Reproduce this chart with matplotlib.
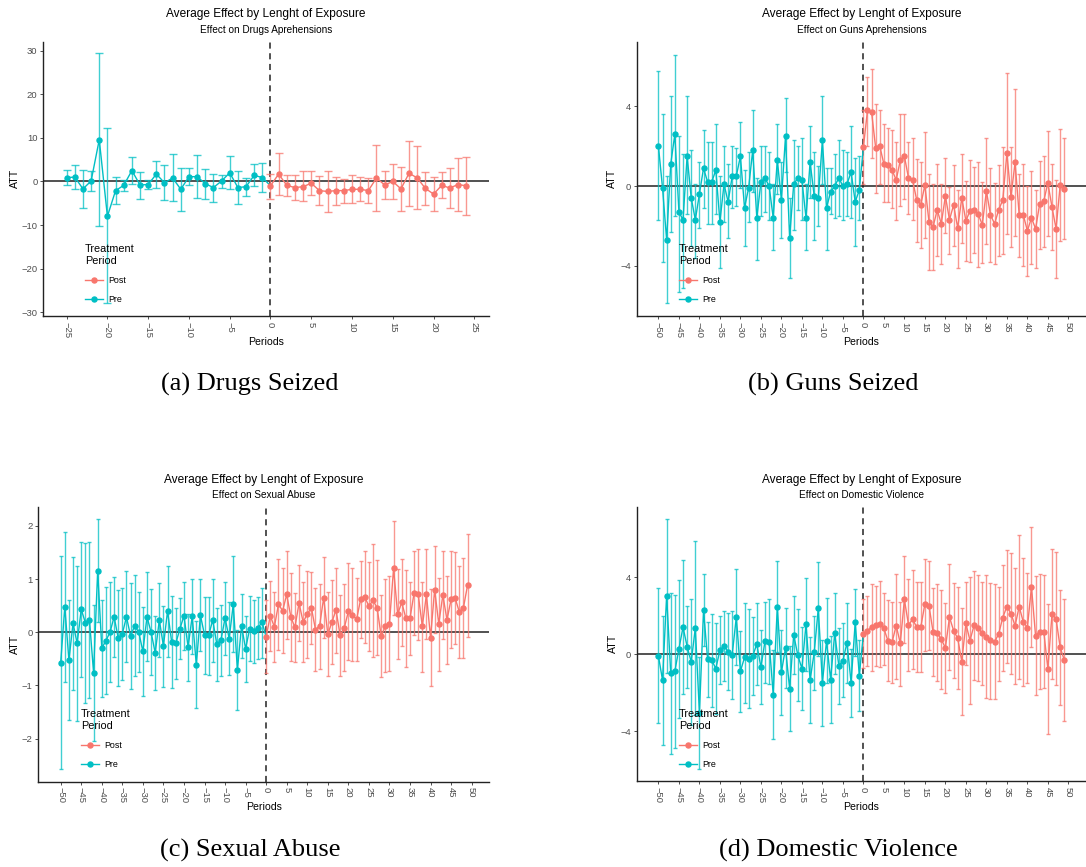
import numpy as np
import matplotlib
matplotlib.use("Agg")
import matplotlib.pyplot as plt
from matplotlib.lines import Line2D

plt.rcParams['font.family'] = ['Liberation Sans', 'DejaVu Sans']

POST_COLOR = "#F8766D"
PRE_COLOR = "#00BFC4"

# ---------------- data ----------------
drugs_periods = list(range(-25, 25))
drugs_att = [0.9, 1.0, -1.7, 0.1, 9.6, -8.0, -2.1, -0.9, 2.5, -0.8, -0.7, 1.7, -0.3, 0.8, -1.8,
             1.1, 1.1, -0.5, -1.4, 0.1, 2.0, -1.4, -1.2, 1.4, 0.9,
             -1.0, 1.7, -0.9, -1.4, -1.2, -0.4, -2.1, -2.3, -2.1, -2.1, -1.8, -1.8, -2.1, 0.8, -0.8,
             0.0, -1.7, 1.9, 0.8, -1.6, -2.9, -0.9, -1.5, -0.7, -1.0]
drugs_hi = [2.7, 3.8, 2.7, 2.4, 29.4, 12.2, 1.1, 0.3, 5.7, 2.1, 0.4, 4.8, 3.8, 6.4, 3.0,
            3.0, 6.0, 2.8, 1.8, 1.5, 5.8, 2.5, 0.7, 3.9, 4.3,
            1.8, 6.5, 1.5, 1.5, 2.3, 2.5, 1.2, 2.4, 1.1, 0.5, 1.4, 1.1, 0.9, 8.3, 2.5,
            4.1, 3.4, 9.4, 8.1, 2.1, 1.0, 2.1, 3.0, 5.4, 5.6]
drugs_lo = [-0.9, -1.8, -6.2, -2.1, -10.3, -28.0, -5.2, -2.2, -0.5, -4.0, -1.7, -1.4, -4.3, -4.6, -6.7,
            -0.9, -3.8, -4.1, -4.7, -1.4, -1.8, -5.2, -3.3, -1.1, -2.4,
            -4.0, -3.1, -3.4, -4.3, -4.6, -3.2, -5.4, -7.0, -5.4, -4.9, -4.9, -4.6, -5.0, -6.7, -4.1,
            -4.1, -6.8, -5.7, -6.4, -5.3, -6.8, -3.8, -6.1, -6.8, -7.7]

long_periods = list(range(-50, 50))

guns_att = [2.0, -0.1, -2.7, 1.1, 2.6, -1.3, -1.7, 1.5, -0.6, -1.7,
            -0.4, 0.9, 0.2, 0.2, 0.8, -1.8, 0.1, -0.8, 0.5, 0.5,
            1.5, -1.1, -0.1, 1.8, -1.6, 0.2, 0.4, 0.0, -1.6, 1.3,
            -0.7, 2.5, -2.6, 0.1, 0.4, 0.3, -1.6, 1.2, -0.5, -0.6,
            2.3, -1.1, -0.3, 0.0, 0.4, 0.0, 0.1, 0.7, -0.8, -0.2,
            1.95, 3.8, 3.7, 1.9, 2.0, 1.1, 1.05, 0.8, 0.3, 1.3,
            1.5, 0.4, 0.3, -0.7, -0.95, 0.05, -1.8, -2.05, -1.2, -1.9,
            -0.5, -1.7, -0.95, -2.1, -0.6, -1.75, -1.25, -1.2, -1.4, -1.95,
            -0.25, -1.45, -1.9, -1.2, -0.7, 1.65, -0.55, 1.2, -1.45, -1.45,
            -2.25, -1.6, -2.15, -0.9, -0.75, 0.15, -1.05, -2.15, 0.05, -0.15]
guns_hi = [5.8, 3.6, 0.5, 4.5, 6.6, 2.5, 1.6, 4.5, 1.8, 0.1,
           1.2, 2.8, 2.2, 2.2, 3.1, 0.5, 2.0, 1.1, 2.0, 1.9,
           3.2, 0.8, 1.7, 3.8, 0.4, 2.0, 2.0, 1.7, 0.1, 3.1,
           1.2, 4.4, -0.6, 2.3, 2.0, 2.4, 0.1, 3.0, 1.7, 1.0,
           4.5, 0.9, 0.9, 1.6, 2.3, 1.8, 1.7, 3.0, 1.4, 1.5,
           3.8, 5.5, 5.9, 4.1, 3.8, 3.1, 2.9, 2.8, 2.2, 3.6,
           3.6, 2.2, 2.4, 1.35, 1.2, 2.7, 0.6, 0.1, 1.1, 0.1,
           1.4, -0.05, 1.05, -0.2, 1.6, 0.25, 1.3, 0.95, 1.2, 0.2,
           2.4, 0.9, 0.15, 1.05, 1.95, 5.7, 1.95, 4.85, 0.6, 1.1,
           0.0, 0.75, -0.2, 1.25, 1.5, 2.75, 1.1, 0.3, 2.85, 2.4]
guns_lo = [-1.7, -3.8, -5.9, -2.3, -1.5, -5.3, -5.1, -1.4, -3.0, -3.6,
           -2.1, -1.1, -1.9, -1.9, -1.4, -4.1, -1.8, -2.6, -1.1, -1.0,
           -0.1, -3.0, -1.8, -0.3, -3.7, -1.5, -1.3, -1.7, -3.2, -0.4,
           -2.6, 0.7, -4.6, -2.2, -1.2, -1.7, -3.2, -0.6, -2.7, -2.0,
           0.1, -3.2, -1.4, -1.6, -1.5, -1.7, -1.5, -1.6, -3.0, -1.7,
           0.1, 2.0, 1.4, -0.35, 0.1, -0.8, -0.8, -1.1, -1.7, -1.0,
           -0.65, -1.4, -1.7, -2.8, -3.1, -2.6, -4.2, -4.2, -3.5, -3.9,
           -2.35, -3.4, -3.0, -4.1, -2.85, -3.75, -3.8, -3.35, -4.05, -3.85,
           -2.9, -3.8, -3.9, -3.5, -3.4, -2.4, -3.05, -2.5, -3.55, -4.0,
           -4.5, -3.9, -4.1, -3.15, -3.05, -2.5, -3.2, -4.6, -2.75, -2.65]

abuse_att = [-0.57, 0.48, -0.53, 0.17, -0.21, 0.43, 0.18, 0.23, -0.76, 1.16,
             -0.30, -0.16, 0.00, 0.29, -0.11, -0.03, 0.29, -0.07, 0.12, 0.00,
             -0.36, 0.29, 0.00, -0.39, 0.23, -0.26, 0.40, -0.18, -0.21, 0.06,
             0.31, -0.28, 0.30, -0.61, 0.32, -0.05, -0.06, 0.23, -0.23, -0.15,
             0.27, -0.12, 0.53, -0.71, 0.12, -0.31, 0.07, 0.02, 0.08, 0.19,
             -0.09, 0.31, 0.10, 0.53, 0.40, 0.71, 0.29, 0.09, 0.55, 0.19,
             0.34, 0.46, 0.05, 0.12, 0.65, -0.04, 0.19, 0.42, -0.06, 0.08,
             0.39, 0.33, 0.24, 0.62, 0.66, 0.49, 0.60, 0.46, -0.08, 0.12,
             0.16, 1.20, 0.34, 0.56, 0.26, 0.26, 0.74, 0.71, 0.11, 0.71,
             -0.10, 0.80, 0.16, 0.70, 0.23, 0.62, 0.64, 0.38, 0.46, 0.88]
abuse_hi = [1.43, 1.89, 0.60, 1.42, 1.24, 1.69, 1.68, 1.70, 0.52, 2.12,
            0.60, 0.85, 0.95, 1.04, 0.79, 0.84, 1.15, 0.92, 1.08, 0.76,
            0.47, 1.13, 0.81, 0.31, 0.92, 0.50, 1.25, 0.68, 0.46, 0.64,
            0.94, 0.34, 1.01, 0.22, 1.01, 0.67, 0.66, 1.00, 0.46, 0.52,
            0.95, 0.57, 1.43, 0.05, 0.71, 0.31, 0.69, 0.61, 0.66, 0.84,
            0.60, 0.96, 0.75, 1.38, 1.20, 1.53, 1.11, 0.74, 1.26, 0.95,
            1.16, 1.13, 0.83, 0.91, 1.42, 0.75, 0.98, 1.21, 0.70, 0.90,
            1.30, 1.21, 1.02, 1.34, 1.53, 1.32, 1.66, 1.35, 0.70, 1.01,
            1.05, 2.10, 1.19, 1.37, 1.17, 0.95, 1.53, 1.57, 0.95, 1.57,
            0.81, 1.62, 1.02, 1.53, 1.05, 1.53, 1.50, 1.24, 1.39, 1.85]
abuse_lo = [-2.57, -0.94, -1.65, -1.09, -1.67, -0.85, -1.33, -1.24, -2.04, 0.19,
            -1.21, -1.16, -0.93, -0.47, -1.01, -0.90, -0.56, -1.06, -0.83, -0.75,
            -1.19, -0.55, -0.81, -1.08, -0.46, -1.03, -0.47, -1.05, -0.88, -0.51,
            -0.34, -0.91, -0.41, -1.43, -0.36, -0.78, -0.80, -0.56, -0.91, -0.83,
            -0.42, -0.81, -0.38, -1.47, -0.48, -0.93, -0.55, -0.58, -0.51, -0.48,
            -0.77, -0.36, -0.56, -0.33, -0.39, -0.13, -0.55, -0.56, -0.17, -0.56,
            -0.49, -0.22, -0.73, -0.69, -0.11, -0.83, -0.60, -0.39, -0.82, -0.73,
            -0.53, -0.55, -0.55, -0.11, -0.20, -0.36, -0.47, -0.43, -0.85, -0.75,
            -0.72, 0.32, -0.51, -0.26, -0.65, -0.42, -0.05, -0.15, -0.75, -0.13,
            -1.01, -0.02, -0.72, -0.13, -0.59, -0.29, -0.23, -0.49, -0.48, -0.09]

domestic_att = [-0.09, -1.35, 3.04, -1.00, -0.89, 0.28, 1.41, 0.40, -0.40, 1.37,
                -3.06, 2.29, -0.26, -0.30, -0.75, 0.21, 0.43, 0.14, -0.02, 1.94,
                -0.89, -0.17, -0.24, -0.09, 0.52, -0.68, 0.69, 0.66, -2.10, 2.47,
                -0.94, 0.33, -1.79, 1.01, -0.05, -0.75, 1.56, -1.35, 0.09, 2.40,
                -1.49, 0.69, -1.32, 1.08, -0.59, -0.35, 0.61, -1.49, 1.67, -1.11,
                1.06, 1.22, 1.42, 1.51, 1.56, 1.34, 0.69, 0.63, 1.49, 0.57,
                2.85, 1.53, 1.81, 1.42, 1.41, 2.62, 2.53, 1.15, 1.11, 0.78,
                0.33, 1.93, 1.23, 0.83, -0.38, 1.60, 0.71, 1.51, 1.39, 1.09,
                0.92, 0.73, 0.64, 1.06, 1.91, 2.48, 2.12, 1.48, 2.48, 1.68,
                1.39, 3.51, 0.95, 1.18, 1.18, -0.76, 2.08, 1.84, 0.35, -0.30]
domestic_hi = [3.44, 2.00, 7.03, 3.19, 3.10, 3.84, 4.90, 2.53, 2.86, 5.92,
               -0.12, 4.18, 1.70, 2.12, 1.60, 1.98, 2.26, 2.15, 2.27, 4.46,
               1.23, 2.69, 2.36, 1.93, 2.66, 1.25, 2.74, 2.85, 0.23, 4.84,
               1.27, 2.40, 0.42, 3.04, 2.36, 1.44, 3.96, 0.89, 2.01, 4.81,
               0.76, 2.92, 0.95, 3.18, 1.39, 1.60, 2.66, 0.28, 3.40, 0.73,
               2.85, 3.04, 3.63, 3.56, 3.82, 3.21, 2.80, 2.74, 4.20, 2.74,
               5.12, 3.92, 4.39, 3.77, 3.77, 4.98, 4.83, 3.44, 3.65, 3.35,
               2.69, 4.70, 3.70, 3.49, 2.43, 3.75, 4.03, 4.34, 4.13, 3.78,
               4.11, 3.73, 3.63, 3.51, 4.67, 5.42, 5.26, 4.48, 6.23, 5.03,
               4.25, 6.63, 4.06, 4.20, 4.11, 2.60, 5.47, 5.30, 3.32, 2.90]
domestic_lo = [-3.60, -4.70, -0.99, -5.20, -4.88, -3.30, -2.08, -1.74, -3.70, -3.18,
               -5.95, 0.43, -2.24, -2.74, -3.09, -1.56, -1.37, -1.86, -2.33, -0.56,
               -3.02, -2.55, -2.78, -2.10, -1.61, -2.59, -1.51, -1.53, -4.41, 0.10,
               -3.14, -1.75, -3.98, -1.04, -2.45, -2.90, -0.85, -3.60, -1.86, -0.09,
               -3.75, -1.49, -3.60, -1.01, -2.60, -2.24, -1.49, -3.28, -0.09, -2.95,
               -0.73, -0.59, -0.87, -0.59, -0.69, -0.56, -1.42, -1.51, -1.27, -1.65,
               0.57, -0.89, -0.76, -0.94, -0.95, 0.17, 0.21, -1.15, -1.41, -1.81,
               -2.03, -0.82, -1.22, -1.82, -3.18, -0.57, -2.57, -1.34, -1.41, -1.60,
               -2.26, -2.34, -2.34, -1.41, -0.85, -0.47, -1.04, -1.55, -1.27, -1.67,
               -1.48, 0.38, -2.14, -1.82, -1.77, -4.13, -1.30, -1.61, -2.62, -3.46]

drugs_yticks = [-30, -20, -10, 0, 10, 20, 30]
guns_yticks = [-4, 0, 4]
abuse_yticks = [-2, -1, 0, 1, 2]
domestic_yticks = [-4, 0, 4]
drugs_xticks = list(range(-25, 26, 5))
long_xticks = list(range(-50, 51, 5))

MAIN_TITLE = "Average Effect by Lenght of Exposure"

# ---------------- figure ----------------
W, H = 1086, 867
fig = plt.figure(figsize=(W / 100, H / 100), dpi=100)


def px_rect(x0, y0, x1, y1):
    return [x0 / W, 1 - y1 / H, (x1 - x0) / W, (y1 - y0) / H]


def draw_panel(rect, periods, att, lo, hi, xlim, ylim, xticks, yticks,
               capsize, subtitle, title_y, sub_y, xlabel_y, ylabel_x, legend_xy):
    ax = fig.add_axes(rect)
    periods = np.asarray(periods)
    att = np.asarray(att, float)
    lo = np.asarray(lo, float)
    hi = np.asarray(hi, float)
    pre = periods < 0
    post = ~pre

    ax.axhline(0, color="#222222", lw=1.1, zorder=1)
    ax.axvline(0, color="#222222", lw=1.1, ls=(0, (4, 3)), zorder=1)

    for mask, col in ((pre, PRE_COLOR), (post, POST_COLOR)):
        x = periods[mask]
        y = att[mask]
        err = [np.maximum(y - lo[mask], 0), np.maximum(hi[mask] - y, 0)]
        ax.errorbar(x, y, yerr=err, fmt="none", ecolor=col, elinewidth=1.0,
                    capsize=capsize, capthick=1.0, alpha=0.75, zorder=2)

    # pre-period line runs on to the first post point
    first_post = np.argmax(post)
    ax.plot(periods[:first_post + 1], att[:first_post + 1], color=PRE_COLOR, lw=1.0, zorder=3)
    ax.plot(periods[pre], att[pre], ls="none", marker="o", ms=3.6, color=PRE_COLOR, zorder=4)
    ax.plot(periods[post], att[post], color=POST_COLOR, lw=1.0, marker="o", ms=3.6, zorder=4)

    ax.set_xlim(*xlim)
    ax.set_ylim(*ylim)
    ax.set_xticks(xticks)
    ax.set_yticks(yticks)
    for s in ("top", "right"):
        ax.spines[s].set_visible(False)
    for s in ("left", "bottom"):
        ax.spines[s].set_color("#222222")
        ax.spines[s].set_linewidth(1.0)
    ax.tick_params(axis="both", length=2.5, width=0.6, color="#333333",
                   labelsize=6.8, labelcolor="#4D4D4D", pad=1.5)
    ax.tick_params(axis="x", labelrotation=-90)

    x0 = rect[0] * W
    x1 = (rect[0] + rect[2]) * W
    cx = (x0 + x1) / 2
    ymid = (1 - (rect[1] + rect[3] / 2)) * H
    fig.text(cx / W, 1 - title_y / H, MAIN_TITLE, ha="center", va="center", fontsize=8.6)
    fig.text(cx / W, 1 - sub_y / H, subtitle, ha="center", va="center", fontsize=7.2)
    fig.text(cx / W, 1 - xlabel_y / H, "Periods", ha="center", va="center", fontsize=7.6)
    fig.text(ylabel_x / W, 1 - ymid / H, "ATT", ha="center", va="center",
             rotation=90, fontsize=7.6)

    handles = [Line2D([], [], color=POST_COLOR, lw=1.0, marker="o", ms=3.6),
               Line2D([], [], color=PRE_COLOR, lw=1.0, marker="o", ms=3.6)]
    leg = ax.legend(handles, ["Post", "Pre"], title="Treatment\nPeriod",
                    loc="upper left", bbox_to_anchor=(legend_xy[0] / W, 1 - legend_xy[1] / H),
                    bbox_transform=fig.transFigure, frameon=False, fontsize=6.4,
                    title_fontsize=7.8, handlelength=2.0, handletextpad=0.6,
                    labelspacing=1.15, borderpad=0, borderaxespad=0)
    leg._legend_box.align = "left"
    return ax


draw_panel(px_rect(43, 41.7, 489, 316), drugs_periods, drugs_att, drugs_lo, drugs_hi,
           (-27.9, 26.8), (-30.9, 32.1), drugs_xticks, drugs_yticks, 2.6,
           "Effect on Drugs Aprehensions", 14, 30.3, 342.3, 15, (85, 244))

draw_panel(px_rect(636.7, 41.7, 1086, 316), long_periods, guns_att, guns_lo, guns_hi,
           (-55.3, 54.3), (-6.53, 7.25), long_xticks, guns_yticks, 1.3,
           "Effect on Guns Aprehensions", 14, 30.3, 342.3, 612, (679, 244))

draw_panel(px_rect(38.3, 506.7, 489.3, 781.7), long_periods, abuse_att, abuse_lo, abuse_hi,
           (-55.45, 54.3), (-2.81, 2.36), long_xticks, abuse_yticks, 1.3,
           "Effect on Sexual Abuse", 480, 495.3, 807.3, 15, (81, 709))

draw_panel(px_rect(636.7, 506.7, 1086, 781), long_periods, domestic_att, domestic_lo, domestic_hi,
           (-55.3, 54.3), (-6.6, 7.68), long_xticks, domestic_yticks, 1.3,
           "Effect on Domestic Violence", 480, 495.3, 807.3, 613, (679, 709))

# sub-figure captions
captions = ["(a) Drugs Seized", "(b) Guns Seized", "(c) Sexual Abuse", "(d) Domestic Violence"]
caption_xy = [(250, 384), (833, 384), (250, 850), (838, 850)]
for text, (cx, cy) in zip(captions, caption_xy):
    fig.text(cx / W, 1 - cy / H, text, ha="center", va="center",
             fontsize=19, family=["Liberation Serif", "DejaVu Serif"])

fig.savefig("out.png", dpi=100)
